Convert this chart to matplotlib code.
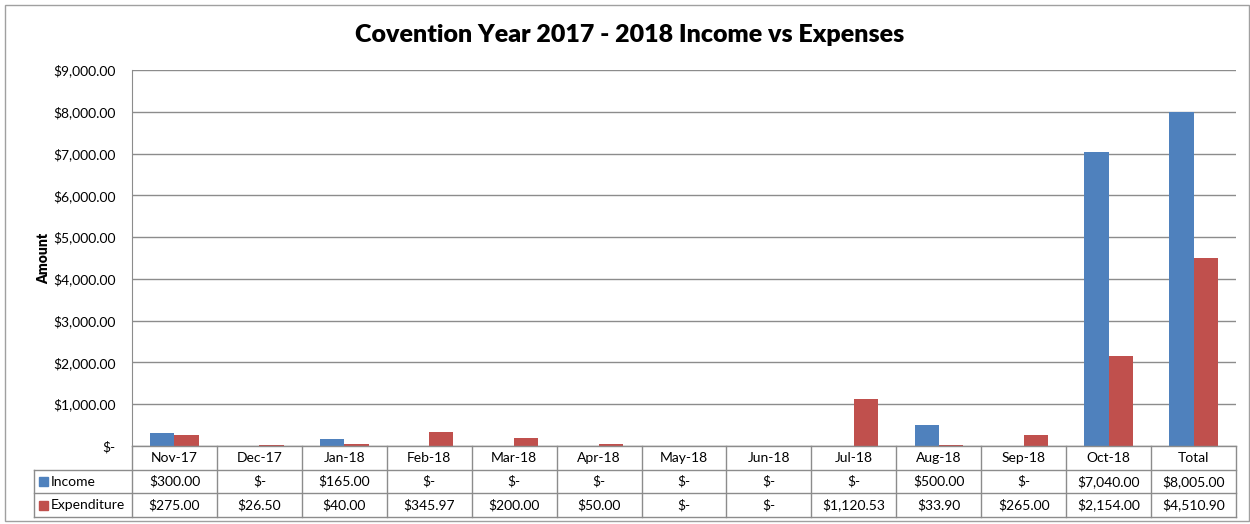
import matplotlib.pyplot as plt
from matplotlib.patches import Rectangle

# дані з таблиці діаграми
months = ['Nov-17', 'Dec-17', 'Jan-18', 'Feb-18', 'Mar-18', 'Apr-18', 'May-18',
          'Jun-18', 'Jul-18', 'Aug-18', 'Sep-18', 'Oct-18', 'Total']
income = [300.00, 0, 165.00, 0, 0, 0, 0, 0, 0, 500.00, 0, 7040.00, 8005.00]
expenditure = [275.00, 26.50, 40.00, 345.97, 200.00, 50.00, 0, 0, 1120.53,
               33.90, 265.00, 2154.00, 4510.90]
series_names = ['Income', 'Expenditure']
colors = ['#4F81BD', '#C0504D']
y_ticks = [0, 1000, 2000, 3000, 4000, 5000, 6000, 7000, 8000, 9000]

plt.rcParams['font.family'] = ['Lato', 'DejaVu Sans']

W, H = 1250, 524
fig = plt.figure(figsize=(W / 100, H / 100), dpi=100)
grid_col = '#8c8c8c'


def money(v):
    if v == 0:
        return '$-'
    return '${:,.2f}'.format(v)


def fx(px):
    return px / W


def fy(py):
    return 1 - py / H


# рамка діаграми
fig.patches.append(Rectangle((fx(5), fy(521)), fx(1244), (516) / H,
                             transform=fig.transFigure, fill=False,
                             edgecolor='#a0a0a0', lw=1))

# основна область
left, right, top, bottom = 132, 1236, 70, 446
ax = fig.add_axes([fx(left), fy(bottom), fx(right - left), (bottom - top) / H])
n = len(months)
x = list(range(n))
bw = 0.2857
ax.bar([i - bw / 2 for i in x], income, width=bw, color=colors[0])
ax.bar([i + bw / 2 for i in x], expenditure, width=bw, color=colors[1])
ax.set_xlim(-0.5, n - 0.5)
ax.set_ylim(0, 9000)
ax.set_yticks(y_ticks)
ax.set_yticklabels([money(v) for v in y_ticks], fontsize=10)
ax.tick_params(axis='y', length=0, pad=12)
ax.set_xticks([])
ax.yaxis.grid(True, color=grid_col, lw=1)
ax.set_axisbelow(True)
for s in ['top', 'right', 'bottom']:
    ax.spines[s].set_visible(False)
ax.spines['left'].set_color(grid_col)
ax.set_ylabel('Amount', fontsize=10, fontweight='heavy', labelpad=2)

fig.text(0.504, fy(35), 'Covention Year 2017 - 2018 Income vs Expenses',
         ha='center', va='center', fontsize=18, fontweight='heavy')

# таблиця даних
tb_top, tb_bot = 446, 517
tax = fig.add_axes([fx(left), fy(tb_bot), fx(right - left), (tb_bot - tb_top) / H])
tax.set_xlim(-0.5, n - 0.5)
tax.set_ylim(3, 0)
tax.axis('off')
cw = (right - left) / n
lx = -0.5 - (left - 34) / cw
kw = dict(color=grid_col, lw=1, clip_on=False)
# горизонтальні лінії
tax.plot([-0.5, n - 0.5], [0, 0], **kw)
for r in [1, 2, 3]:
    tax.plot([lx, n - 0.5], [r, r], **kw)
# вертикальні лінії
for i in range(n + 1):
    tax.plot([i - 0.5, i - 0.5], [0, 3], **kw)
tax.plot([lx, lx], [1, 3], **kw)

for i, m in enumerate(months):
    tax.text(i, 0.5, m, ha='center', va='center', fontsize=10)
    tax.text(i, 1.5, money(income[i]), ha='center', va='center', fontsize=10)
    tax.text(i, 2.5, money(expenditure[i]), ha='center', va='center', fontsize=10)

for r, (name, c) in enumerate(zip(series_names, colors)):
    tax.add_patch(Rectangle((lx + 0.06, r + 1.33), 0.1, 0.36, color=c,
                            clip_on=False))
    tax.text(lx + 0.2, r + 1.5, name, ha='left', va='center', fontsize=10)

fig.savefig('out.png', dpi=100)
